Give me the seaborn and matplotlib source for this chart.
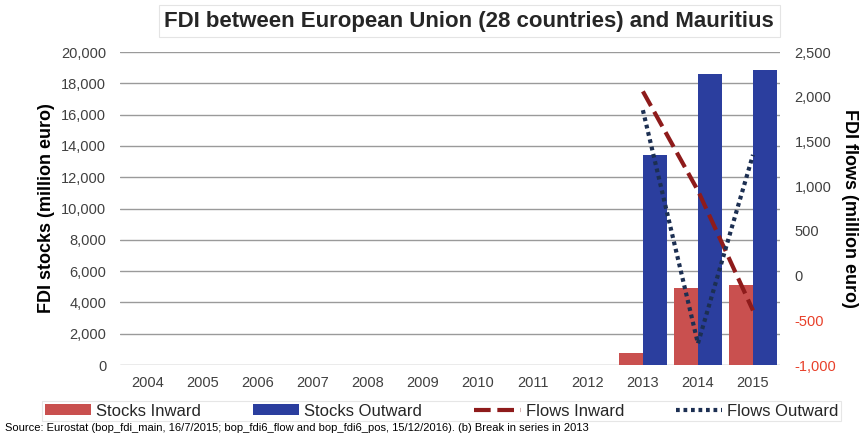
import numpy as np
import pandas as pd
import matplotlib
matplotlib.use("Agg")
import matplotlib.pyplot as plt
import seaborn as sns
from matplotlib.patches import Patch
from matplotlib.lines import Line2D

years = ["2004", "2005", "2006", "2007", "2008", "2009", "2010", "2011", "2012", "2013", "2014", "2015"]
stocks_inward = [0, 0, 0, 0, 0, 0, 0, 0, 0, 770, 4950, 5100]
stocks_outward = [0, 0, 0, 0, 0, 0, 0, 0, 0, 13400, 18600, 18850]
flows_inward = [np.nan] * 9 + [2060, 950, -390]
flows_outward = [np.nan] * 9 + [1850, -760, 1350]
stock_ticks = [0, 2000, 4000, 6000, 8000, 10000, 12000, 14000, 16000, 18000, 20000]
flow_ticks = [-1000, -500, 0, 500, 1000, 1500, 2000, 2500]

sns.set_theme(style="white")
plt.rcParams['font.family'] = ['Liberation Sans', 'DejaVu Sans']

c_in = "#C9504F"
c_out = "#2B3E9E"
c_fin = "#8E1B1B"
c_fout = "#1C2F52"
tick_col = "#404040"

df = pd.DataFrame({
    "year": years * 2,
    "value": stocks_inward + stocks_outward,
    "series": ["Stocks Inward"] * len(years) + ["Stocks Outward"] * len(years),
})

fig = plt.figure(figsize=(8.61, 4.41), dpi=100)
ax = fig.add_axes([0.1394, 0.1723, 0.9065 - 0.1394, 0.882 - 0.1723])
sns.barplot(data=df, x="year", y="value", hue="series", order=years,
            palette=[c_in, c_out], width=0.88, ax=ax, legend=False,
            saturation=1, edgecolor="none")
ax.set_ylim(0, 20000)
ax.set_yticks(stock_ticks)
ax.set_yticklabels([f"{v:,}" for v in stock_ticks])
ax.set_xlim(-0.5, len(years) - 0.5)
ax.yaxis.grid(True, color="#9a9a9a", linewidth=1.0)
ax.set_axisbelow(True)
for s in ax.spines.values():
    s.set_visible(False)
ax.tick_params(axis="both", length=0, labelsize=10.5, colors=tick_col, pad=10)
ax.tick_params(axis="x", pad=8)
ax.set_xlabel("")
ax.set_ylabel("FDI stocks (million euro)", fontsize=13, fontweight="bold",
              color="black", labelpad=4)

ax2 = ax.twinx()
pos = np.arange(len(years))
sns.lineplot(x=pos, y=flows_inward, ax=ax2, color=c_fin, linewidth=3)
ax2.lines[-1].set_dashes([4, 1.6])
sns.lineplot(x=pos, y=flows_outward, ax=ax2, color=c_fout, linewidth=3)
ax2.lines[-1].set_dashes([0.9, 0.9])
ax2.set_ylim(-1000, 2500)
ax2.set_yticks(flow_ticks)
ax2.set_yticklabels([f"{v:,}" for v in flow_ticks])
for lab, v in zip(ax2.get_yticklabels(), flow_ticks):
    lab.set_color("#E8402A" if v < 0 else tick_col)
for s in ax2.spines.values():
    s.set_visible(False)
ax2.tick_params(axis="y", length=0, labelsize=10.5, pad=10)
ax2.set_ylabel("FDI flows (million euro)", fontsize=13, fontweight="bold",
               rotation=270, labelpad=16, color="black")
ax2.set_xlim(-0.5, len(years) - 0.5)

fig.text(0.545, 0.952, "FDI between European Union (28 countries) and Mauritius",
         ha="center", va="center", fontsize=16, fontweight="bold",
         bbox=dict(boxstyle="square,pad=0.25", fc="white", ec="#e4e4e4", lw=0.8))

handles = [
    Patch(facecolor=c_in, edgecolor="none", label="Stocks Inward"),
    Patch(facecolor=c_out, edgecolor="none", label="Stocks Outward"),
    Line2D([0], [0], color=c_fin, lw=3, dashes=[4, 1.6], label="Flows Inward"),
    Line2D([0], [0], color=c_fout, lw=3, dashes=[0.9, 0.9], label="Flows Outward"),
]
leg = fig.legend(handles=handles, loc="center", bbox_to_anchor=(0.513, 0.068), ncol=4,
                 frameon=True, fontsize=12, handlelength=2.8, handleheight=0.6,
                 columnspacing=3.1, handletextpad=0.3, borderpad=0.15,
                 borderaxespad=0, fancybox=False)
leg.get_frame().set_edgecolor("#e0e0e0")
leg.get_frame().set_linewidth(0.8)

fig.text(0.006, 0.029, "Source: Eurostat (bop_fdi_main, 16/7/2015; bop_fdi6_flow and bop_fdi6_pos, 15/12/2016). (b) Break in series in 2013",
         ha="left", va="center", fontsize=8, color="black")

fig.savefig("out.png", dpi=100)
